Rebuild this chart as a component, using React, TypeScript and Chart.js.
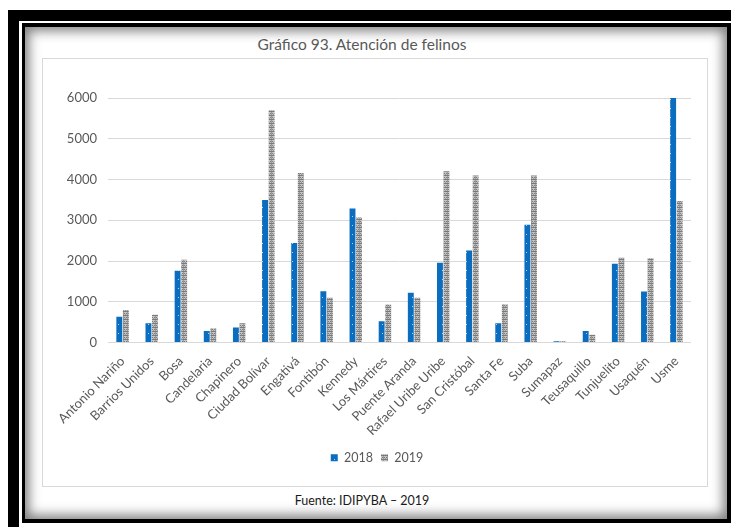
import React, { useEffect, useRef } from "react";
import { Chart, registerables } from "chart.js";

Chart.register(...registerables);

const categories = [
  "Antonio Nariño",
  "Barrios Unidos",
  "Bosa",
  "Candelaria",
  "Chapinero",
  "Ciudad Bolívar",
  "Engativá",
  "Fontibón",
  "Kennedy",
  "Los Mártires",
  "Puente Aranda",
  "Rafael Uribe Uribe",
  "San Cristóbal",
  "Santa Fe",
  "Suba",
  "Sumapaz",
  "Teusaquillo",
  "Tunjuelito",
  "Usaquén",
  "Usme",
];
const values2018 = [630, 470, 1760, 280, 370, 3500, 2440, 1260, 3290, 520, 1220, 1960, 2260, 470, 2890, 30, 280, 1930, 1250, 6000];
const values2019 = [800, 680, 2030, 350, 470, 5700, 4160, 1100, 3070, 930, 1100, 4200, 4100, 940, 4100, 30, 190, 2080, 2070, 3470];
const yTicks = [0, 1000, 2000, 3000, 4000, 5000, 6000];
const seriesLabels = ["2018", "2019"];
const titleText = "Gráfico 93. Atención de felinos";
const sourceText = "Fuente: IDIPYBA – 2019";

const FONT = "Lato, 'Open Sans', sans-serif";
const TEXT_GRAY = "#595959";

function makeBluePattern(ctx: CanvasRenderingContext2D) {
  const c = document.createElement("canvas");
  c.width = 6;
  c.height = 9;
  const g = c.getContext("2d")!;
  g.fillStyle = "#0a6dbf";
  g.fillRect(0, 0, 6, 9);
  g.fillStyle = "rgba(255,255,255,0.7)";
  g.fillRect(3, 4, 1, 1);
  return ctx.createPattern(c, "repeat")!;
}

function makeGrayPattern(ctx: CanvasRenderingContext2D) {
  const c = document.createElement("canvas");
  c.width = 4;
  c.height = 4;
  const g = c.getContext("2d")!;
  g.fillStyle = "#c4c4c4";
  g.fillRect(0, 0, 4, 4);
  g.fillStyle = "#7a7a7a";
  g.fillRect(0, 0, 4, 1);
  g.fillRect(1, 2, 1, 1);
  g.fillRect(3, 2, 1, 1);
  g.fillStyle = "#9a9a9a";
  g.fillRect(0, 1, 1, 3);
  g.fillRect(2, 3, 1, 1);
  return ctx.createPattern(c, "repeat")!;
}

function BarChart() {
  const ref = useRef<HTMLCanvasElement | null>(null);
  useEffect(() => {
    const canvas = ref.current!;
    const ctx = canvas.getContext("2d")!;
    const blue = makeBluePattern(ctx);
    const gray = makeGrayPattern(ctx);
    const chart = new Chart(canvas, {
      type: "bar",
      data: {
        labels: categories,
        datasets: [
          {
            label: seriesLabels[0],
            data: values2018,
            backgroundColor: blue as any,
            borderWidth: 0,
            barPercentage: 0.9,
            categoryPercentage: 0.45,
          },
          {
            label: seriesLabels[1],
            data: values2019,
            backgroundColor: gray as any,
            borderWidth: 0,
            barPercentage: 0.9,
            categoryPercentage: 0.45,
          },
        ],
      },
      options: {
        responsive: false,
        animation: false,
        layout: { padding: { left: 20, right: 16, top: 39, bottom: 12 } },
        plugins: {
          legend: {
            position: "bottom",
            labels: {
              boxWidth: 7,
              boxHeight: 7,
              padding: 8,
              color: TEXT_GRAY,
              font: { family: FONT, size: 12.5 },
            },
          },
          title: { display: false },
          tooltip: { enabled: false },
        },
        scales: {
          x: {
            grid: { display: false },
            border: { display: false },
            ticks: {
              autoSkip: false,
              maxRotation: 45,
              minRotation: 45,
              padding: 3,
              color: TEXT_GRAY,
              font: { family: FONT, size: 13 },
            },
            afterFit: (s: any) => {
              s.height = 101;
            },
          },
          y: {
            min: 0,
            max: 6000,
            afterBuildTicks: (s: any) => {
              s.ticks = yTicks.map((v) => ({ value: v }));
            },
            grid: { color: "#d9d9d9", drawTicks: false },
            border: { display: false },
            ticks: {
              padding: 11,
              color: TEXT_GRAY,
              font: { family: FONT, size: 13 },
              callback: (v: any) => String(v),
            },
            afterFit: (s: any) => {
              s.width = 45;
            },
          },
        },
      },
    });
    return () => chart.destroy();
  }, []);
  return <canvas ref={ref} width={664} height={427} style={{ width: 664, height: 427, display: "block" }} />;
}

export default function App() {
  return (
    <div
      style={{
        position: "fixed",
        left: 0,
        top: 0,
        width: 731,
        height: 527,
        overflow: "hidden",
        background: "#fff",
      }}
    >
      <div
        style={{
          position: "absolute",
          left: 8,
          top: 10,
          width: 800,
          height: 600,
          border: "11px solid #000",
          boxSizing: "border-box",
          background: "#fff",
        }}
      />
      <div
        style={{
          position: "absolute",
          left: 22,
          top: 23,
          width: 709,
          height: 500,
          borderStyle: "solid",
          borderColor: "#000",
          borderWidth: "4px 4px 4px 3px",
          boxSizing: "border-box",
          background: "#fff",
          boxShadow: "inset 0 0 12px 4px rgba(0,0,0,0.5)",
        }}
      />
      <div
        style={{
          position: "absolute",
          left: 29,
          top: 35,
          width: 666,
          lineHeight: "18px",
          textAlign: "center",
          fontFamily: FONT,
          fontSize: 15.5,
          color: TEXT_GRAY,
        }}
      >
        {titleText}
      </div>
      <div
        style={{
          position: "absolute",
          left: 42,
          top: 58,
          width: 666,
          height: 429,
          border: "1px solid #d9d9d9",
          boxSizing: "border-box",
        }}
      />
      <div style={{ position: "absolute", left: 43, top: 59, width: 664, height: 427 }}>
        <BarChart />
      </div>
      <div
        style={{
          position: "absolute",
          left: 29,
          top: 493,
          width: 666,
          lineHeight: "16px",
          textAlign: "center",
          fontFamily: FONT,
          fontSize: 12.5,
          color: "#1a1a1a",
        }}
      >
        {sourceText}
      </div>
    </div>
  );
}
